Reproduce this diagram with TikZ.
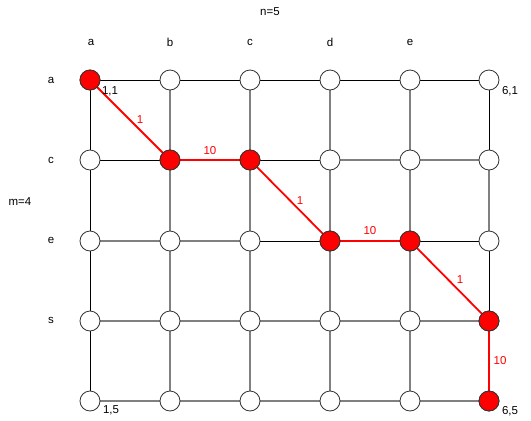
\documentclass[tikz,border=0pt]{standalone}
\usepackage{fontspec}
\setmainfont{Liberation Sans}
\begin{document}
\begin{tikzpicture}[x=1pt,y=-1pt,
  vtx/.style={circle,draw=black!80,line width=0.8pt,fill=white,minimum size=20pt,inner sep=0pt},
  vred/.style={vtx,fill=red},
  blk/.style={draw=black,line width=1pt},
  gry/.style={draw=black!50,line width=1.7pt},
  rpath/.style={draw=red,line width=1.8pt},
  lbl/.style={font=\fontsize{11.5}{13}\selectfont,inner sep=0pt},
  rlbl/.style={lbl,text=red}]
\useasboundingbox (0,0) rectangle (531,421);
% node positions
\foreach \i/\x in {1/90,2/170,3/250,4/330,5/410,6/489}{
  \foreach \j/\y in {1/80,2/160,3/241,4/321,5/401}{
    \coordinate (p\i\j) at (\x,\y);
  }
}
% gray edges
\foreach \i in {2,3,4,5}{
  \draw[gry] (p\i1) -- (p\i5);
}
\draw[gry] (p62) -- (p63);
\draw[gry] (p42) -- (p62);
\draw[gry] (p13) -- (p33);
\draw[gry] (p14) -- (p64);
\draw[gry] (p15) -- (p65);
% black edges
\draw[blk] (p11) -- (p61);
\draw[blk] (p11) -- (p15);
\draw[blk] (p12) -- (p22);
\draw[blk] (p32) -- (p42);
\draw[blk] (p33) -- (p43);
\draw[blk] (p53) -- (p63);
\draw[blk] (p61) -- (p62);
\draw[blk] (p63) -- (p64);
% red path
\draw[rpath] (p11) -- (p22) -- (p32) -- (p43) -- (p53) -- (p64) -- (p65);
% vertices
\foreach \i in {1,...,6}{
  \foreach \j in {1,...,5}{
    \node[vtx] (n\i\j) at (p\i\j) {};
  }
}
\foreach \k in {11,22,32,43,53,64,65}{
  \node[vred] (r\k) at (p\k) {};
}
% texts
\node[lbl] (tn) at (270,12) {n=5};
\node[lbl] (tm) at (20,202) {m=4};
\node[lbl] (ca) at (91,42) {a};
\node[lbl] (cb) at (170,42) {b};
\node[lbl] (cc) at (250,42) {c};
\node[lbl] (cd) at (330,42) {d};
\node[lbl] (ce) at (410,42) {e};
\node[lbl] (ra) at (51,80) {a};
\node[lbl] (rc) at (51,160) {c};
\node[lbl] (re) at (51,240) {e};
\node[lbl] (rs) at (51,320) {s};
\node[lbl] (l11) at (110,91) {1,1};
\node[lbl] (l61) at (510,91) {6,1};
\node[lbl] (l15) at (111,410) {1,5};
\node[lbl] (l65) at (510,411) {6,5};
\node[rlbl] (w1) at (140,120) {1};
\node[rlbl] (w2) at (210,151) {10};
\node[rlbl] (w3) at (300,201) {1};
\node[rlbl] (w4) at (370,231) {10};
\node[rlbl] (w5) at (460,280) {1};
\node[rlbl] (w6) at (500,361) {10};
\end{tikzpicture}
\end{document}
